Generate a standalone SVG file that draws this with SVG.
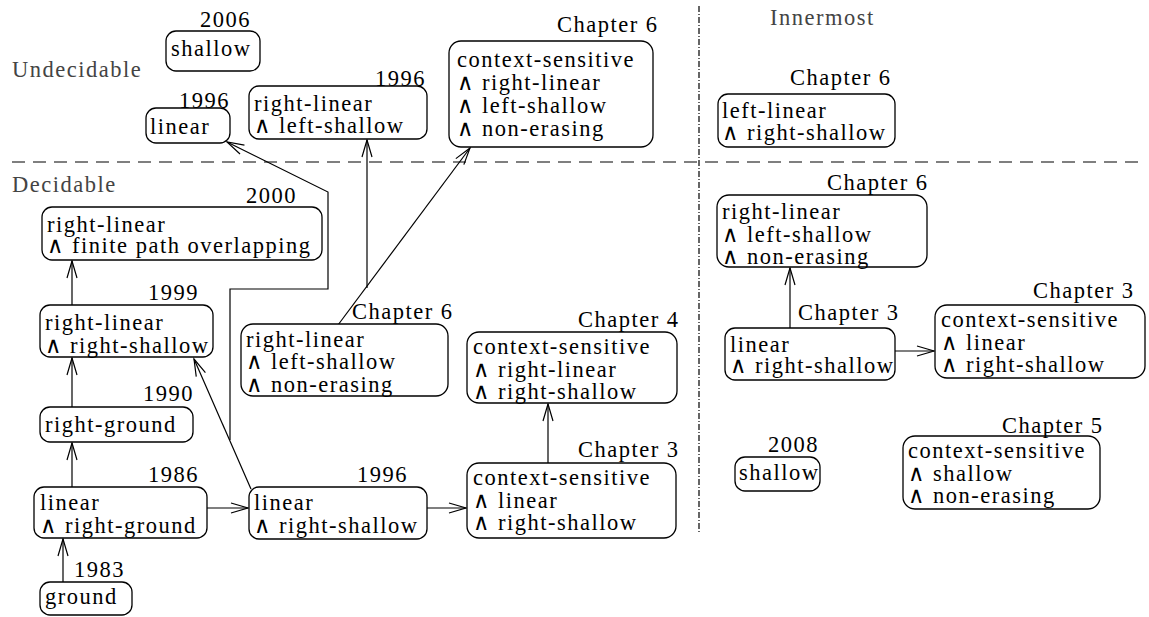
<svg xmlns="http://www.w3.org/2000/svg" width="1149" height="617" viewBox="0 0 1149 617" font-family="Liberation Serif, DejaVu Serif, serif">
<style>
.box{fill:#fff;stroke:#000;stroke-width:1.3}
.t{font-size:22.5px;letter-spacing:1.5px;fill:#000}
.g{fill:#444}
.e{fill:none;stroke:#000;stroke-width:1.2;marker-end:url(#arr)}
</style>
<defs>
<marker id="arr" viewBox="-20 -7 22 14" refX="0" refY="0" markerWidth="22" markerHeight="14" markerUnits="userSpaceOnUse" orient="auto" overflow="visible">
<path d="M-17,-5 L0,0 L-17,5" fill="none" stroke="#000" stroke-width="1.2"/>
</marker>
</defs>
<g id="separators">
<line x1="12" y1="162" x2="1142" y2="162" stroke="#000" stroke-width="1.2" stroke-dasharray="13 8"/>
<line x1="699" y1="6" x2="699" y2="532" stroke="#000" stroke-width="1.2" stroke-dasharray="6 2 1 2"/>
</g>
<g id="region-labels">
<text class="t g" x="12" y="77">Undecidable</text>
<text class="t g" x="12" y="192">Decidable</text>
<text class="t g" x="770" y="25">Innermost</text>
</g>
<g id="connectors">
<path class="e" d="M63,582 L63,539"/>
<path class="e" d="M72,487 L72,443"/>
<path class="e" d="M72,407 L72,358"/>
<path class="e" d="M72,305 L72,261"/>
<path class="e" d="M207,508 L248,508"/>
<path class="e" d="M427,508 L466,508"/>
<path class="e" d="M548,463 L548,404"/>
<path class="e" d="M251,489 L194,359"/>
<path class="e" d="M230,440 L230,289 L328,289 L328,192 L227,142"/>
<path class="e" d="M367,288 L367,140"/>
<path class="e" d="M338,325 L470,148"/>
<path class="e" d="M790,328 L790,268"/>
<path class="e" d="M895,351 L934,351"/>
</g>
<g id="n-shallow2006">
<rect class="box" x="166" y="31" width="94" height="40" rx="10"/>
<text class="t" x="171" y="56">shallow</text>
<text class="t" x="200" y="27">2006</text>
</g>
<g id="n-linear1996u">
<rect class="box" x="146" y="108" width="84" height="35" rx="10"/>
<text class="t" x="150" y="134">linear</text>
<text class="t" x="179" y="108">1996</text>
</g>
<g id="n-rl-ls1996">
<rect class="box" x="249" y="86" width="178" height="53" rx="10"/>
<text class="t" x="254" y="111">right-linear</text>
<text class="t" x="254" y="133">∧ left-shallow</text>
<text class="t" x="375" y="86">1996</text>
</g>
<g id="n-cs-rl-ls-ne6">
<rect class="box" x="449" y="41" width="204" height="106" rx="12"/>
<text class="t" x="457" y="67">context-sensitive</text>
<text class="t" x="457" y="90">∧ right-linear</text>
<text class="t" x="457" y="113">∧ left-shallow</text>
<text class="t" x="457" y="136">∧ non-erasing</text>
<text class="t" x="557" y="32">Chapter 6</text>
</g>
<g id="n-ll-rs6">
<rect class="box" x="718" y="94" width="177" height="53" rx="10"/>
<text class="t" x="722" y="118">left-linear</text>
<text class="t" x="722" y="140">∧ right-shallow</text>
<text class="t" x="790" y="85">Chapter 6</text>
</g>
<g id="n-rl-fpo2000">
<rect class="box" x="42" y="207" width="280" height="53" rx="10"/>
<text class="t" x="47" y="232">right-linear</text>
<text class="t" x="47" y="253">∧ finite path overlapping</text>
<text class="t" x="246" y="203">2000</text>
</g>
<g id="n-rl-rs1999">
<rect class="box" x="40" y="305" width="173" height="52" rx="10"/>
<text class="t" x="45" y="330">right-linear</text>
<text class="t" x="45" y="353">∧ right-shallow</text>
<text class="t" x="148" y="300">1999</text>
</g>
<g id="n-rl-ls-ne6d">
<rect class="box" x="241" y="324" width="207" height="72" rx="12"/>
<text class="t" x="246" y="347">right-linear</text>
<text class="t" x="246" y="369">∧ left-shallow</text>
<text class="t" x="246" y="392">∧ non-erasing</text>
<text class="t" x="352" y="319">Chapter 6</text>
</g>
<g id="n-cs-rl-rs4">
<rect class="box" x="467" y="332" width="210" height="71" rx="12"/>
<text class="t" x="473" y="354">context-sensitive</text>
<text class="t" x="473" y="377">∧ right-linear</text>
<text class="t" x="473" y="399">∧ right-shallow</text>
<text class="t" x="578" y="327">Chapter 4</text>
</g>
<g id="n-rightground1990">
<rect class="box" x="40" y="407" width="153" height="35" rx="10"/>
<text class="t" x="45" y="432">right-ground</text>
<text class="t" x="143" y="401">1990</text>
</g>
<g id="n-lin-rg1986">
<rect class="box" x="34" y="487" width="173" height="51" rx="10"/>
<text class="t" x="40" y="510">linear</text>
<text class="t" x="40" y="533">∧ right-ground</text>
<text class="t" x="148" y="482">1986</text>
</g>
<g id="n-ground1983">
<rect class="box" x="40" y="582" width="92" height="33" rx="10"/>
<text class="t" x="45" y="604">ground</text>
<text class="t" x="74" y="577">1983</text>
</g>
<g id="n-lin-rs1996">
<rect class="box" x="249" y="487" width="178" height="52" rx="10"/>
<text class="t" x="254" y="510">linear</text>
<text class="t" x="254" y="533">∧ right-shallow</text>
<text class="t" x="357" y="482">1996</text>
</g>
<g id="n-cs-lin-rs3">
<rect class="box" x="467" y="463" width="209" height="75" rx="12"/>
<text class="t" x="473" y="485">context-sensitive</text>
<text class="t" x="473" y="508">∧ linear</text>
<text class="t" x="473" y="530">∧ right-shallow</text>
<text class="t" x="578" y="457">Chapter 3</text>
</g>
<g id="n-rl-ls-ne6i">
<rect class="box" x="717" y="195" width="210" height="72" rx="12"/>
<text class="t" x="722" y="219">right-linear</text>
<text class="t" x="722" y="242">∧ left-shallow</text>
<text class="t" x="722" y="264">∧ non-erasing</text>
<text class="t" x="827" y="190">Chapter 6</text>
</g>
<g id="n-lin-rs3i">
<rect class="box" x="725" y="328" width="170" height="52" rx="10"/>
<text class="t" x="730" y="352">linear</text>
<text class="t" x="730" y="373">∧ right-shallow</text>
<text class="t" x="798" y="320">Chapter 3</text>
</g>
<g id="n-cs-lin-rs3i">
<rect class="box" x="935" y="305" width="210" height="73" rx="12"/>
<text class="t" x="941" y="327">context-sensitive</text>
<text class="t" x="941" y="350">∧ linear</text>
<text class="t" x="941" y="372">∧ right-shallow</text>
<text class="t" x="1033" y="298">Chapter 3</text>
</g>
<g id="n-shallow2008">
<rect class="box" x="735" y="457" width="85" height="34" rx="10"/>
<text class="t" x="739" y="480">shallow</text>
<text class="t" x="768" y="452">2008</text>
</g>
<g id="n-cs-sh-ne5">
<rect class="box" x="903" y="436" width="197" height="73" rx="12"/>
<text class="t" x="908" y="458">context-sensitive</text>
<text class="t" x="908" y="481">∧ shallow</text>
<text class="t" x="908" y="503">∧ non-erasing</text>
<text class="t" x="1002" y="433">Chapter 5</text>
</g>
</svg>
